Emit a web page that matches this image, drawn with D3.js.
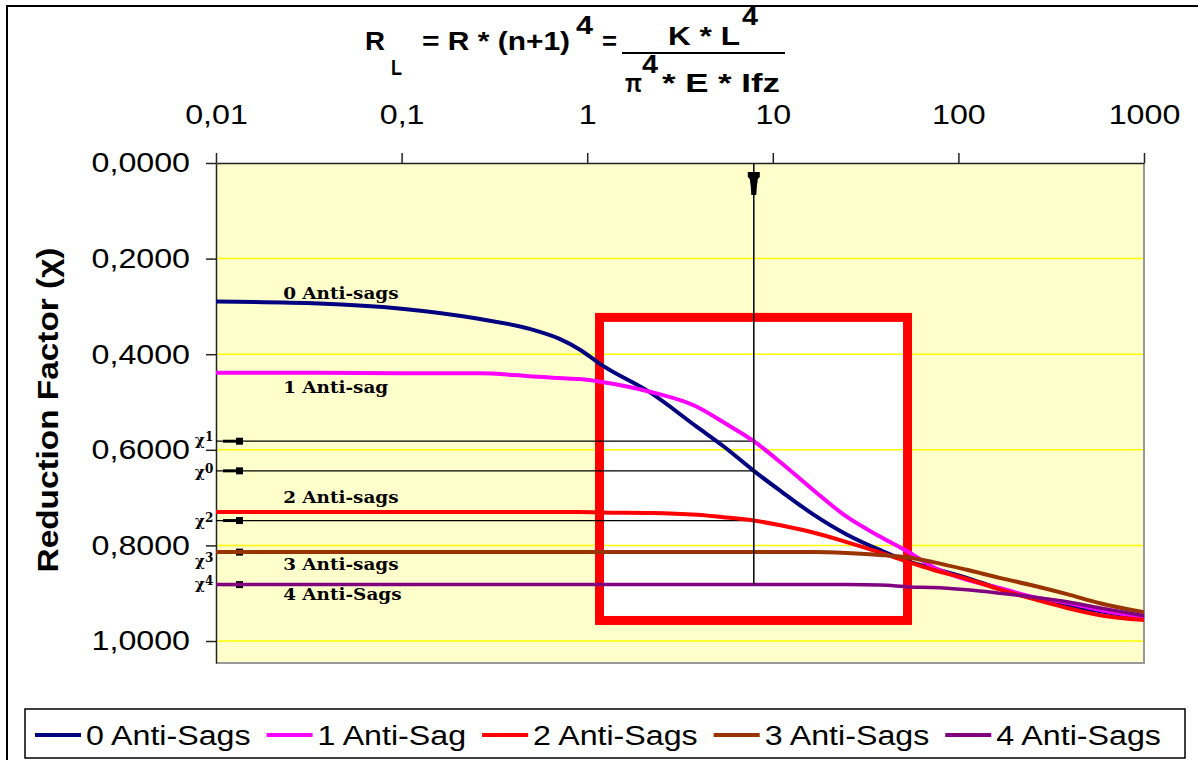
<!DOCTYPE html>
<html>
<head>
<meta charset="utf-8">
<script src="https://cdn.jsdelivr.net/npm/d3@7"></script>
<style>
  body { margin: 0; background: #fff; }
  svg { display: block; }
</style>
</head>
<body>
<div id="chart"></div>
<script>
// values
const xValues   = [0.01, 0.036, 0.1, 0.26, 0.49, 0.71, 0.91, 1.2, 2.2, 3.9, 5.4, 7.9, 11, 16.5, 25, 38, 55, 73, 111, 167, 252, 385, 580, 1000]
const antiSags0 = [0.290, 0.294, 0.305, 0.326, 0.347, 0.368, 0.390, 0.423, 0.481, 0.552, 0.592, 0.644, 0.686, 0.735, 0.777, 0.810, 0.835, 0.848, 0.868, 0.891, 0.910, 0.925, 0.938, 0.952]
const antiSags1 = [0.439, 0.439, 0.440, 0.440, 0.446, 0.450, 0.452, 0.458, 0.479, 0.510, 0.542, 0.582, 0.626, 0.684, 0.740, 0.782, 0.816, 0.845, 0.872, 0.889, 0.908, 0.920, 0.935, 0.950]
const antiSags2 = [0.730, 0.730, 0.730, 0.730, 0.730, 0.730, 0.730, 0.731, 0.732, 0.736, 0.741, 0.748, 0.758, 0.773, 0.793, 0.815, 0.836, 0.851, 0.870, 0.892, 0.912, 0.931, 0.946, 0.956]
const antiSags3 = [0.814, 0.814, 0.814, 0.814, 0.814, 0.814, 0.814, 0.814, 0.814, 0.814, 0.814, 0.814, 0.814, 0.814, 0.816, 0.820, 0.826, 0.835, 0.851, 0.868, 0.884, 0.902, 0.921, 0.940]
const antiSags4 = [0.882, 0.882, 0.882, 0.882, 0.882, 0.882, 0.882, 0.882, 0.882, 0.882, 0.882, 0.882, 0.882, 0.882, 0.882, 0.883, 0.887, 0.888, 0.893, 0.900, 0.908, 0.918, 0.931, 0.947]

const seriesNames  = ['0 Anti-Sags', '1 Anti-Sag', '2 Anti-Sags', '3 Anti-Sags', '4 Anti-Sags']
const curveLabels  = ['0 Anti-sags', '1 Anti-sag', '2 Anti-sags', '3 Anti-sags', '4 Anti-Sags']
const seriesColors = ['#000080', '#FF00FF', '#FF0000', '#993300', '#800080']
const seriesValues = [antiSags0, antiSags1, antiSags2, antiSags3, antiSags4]

const xTicks      = [0.01, 0.1, 1, 10, 100, 1000]
const xTickLabels = ['0,01', '0,1', '1', '10', '100', '1000']
const yTicks      = [0, 0.2, 0.4, 0.6, 0.8, 1.0]
const yTickLabels = ['0,0000', '0,2000', '0,4000', '0,6000', '0,8000', '1,0000']

const readX = 7.9           // R_L where the chi values are read
const boxX  = [1.165, 53.2] // red highlight box
const boxY  = [0.323, 0.957]

// consts
const W = 1198, H = 760
const S = 1.15 // the original text is a bit wider than Arial
const sans = '"Liberation Sans", Arial, sans-serif'
const serif = '"DejaVu Serif", serif'

const svg = d3.select('#chart').append('svg')
    .attr('width', W)
    .attr('height', H)

const x = d3.scaleLog().domain([0.01, 1000]).range([216, 1144])
const y = d3.scaleLinear().domain([0, 1.046]).range([163, 663])

// chart border
svg.append('rect')
    .attr('x', 7).attr('y', 6)
    .attr('width', 1300).attr('height', 900)
    .attr('fill', 'none')
    .attr('stroke', '#000')
    .attr('stroke-width', 2)

// plot area
svg.append('rect')
    .attr('x', x(0.01)).attr('y', y(0))
    .attr('width', x(1000) - x(0.01))
    .attr('height', y.range()[1] - y(0))
    .attr('fill', '#FFFFCC')

// white inside of the highlight box, under the grid
svg.append('rect')
    .attr('x', x(boxX[0])).attr('y', y(boxY[0]))
    .attr('width', x(boxX[1]) - x(boxX[0]))
    .attr('height', y(boxY[1]) - y(boxY[0]))
    .attr('fill', '#fff')

// gridlines
svg.append('g').selectAll('line')
    .data(yTicks.slice(1))
    .enter()
    .append('line')
    .attr('x1', x(0.01)).attr('x2', x(1000))
    .attr('y1', d => y(d)).attr('y2', d => y(d))
    .attr('stroke', '#FFFF00')
    .attr('stroke-width', 1.5)

// plot border right / bottom
svg.append('path')
    .attr('d', `M${x(1000)},${y(0)}V${y.range()[1]}H${x(0.01)}`)
    .attr('fill', 'none')
    .attr('stroke', '#999')
    .attr('stroke-width', 2)

// red box
svg.append('rect')
    .attr('x', x(boxX[0])).attr('y', y(boxY[0]))
    .attr('width', x(boxX[1]) - x(boxX[0]))
    .attr('height', y(boxY[1]) - y(boxY[0]))
    .attr('fill', 'none')
    .attr('stroke', '#FF0000')
    .attr('stroke-width', 9)

// axes
const xAxis = svg.append('g')
    .attr('transform', `translate(0,${y(0)})`)
    .call(d3.axisTop(x).tickValues(xTicks).tickFormat((d, i) => xTickLabels[i]).tickSize(10).tickSizeOuter(0).tickPadding(29))
const yAxis = svg.append('g')
    .attr('transform', `translate(${x(0.01)},0)`)
    .call(d3.axisLeft(y).tickValues(yTicks).tickFormat((d, i) => yTickLabels[i]).tickSize(10).tickSizeOuter(0).tickPadding(16))
;[xAxis, yAxis].forEach(a => {
    a.select('.domain').attr('stroke', '#222').attr('stroke-width', 1.5)
    a.selectAll('.tick line').attr('stroke', '#222').attr('stroke-width', 1.5)
    a.selectAll('.tick text')
        .attr('fill', '#000')
        .style('font-family', sans)
        .style('font-size', '28px')
})
xAxis.selectAll('.tick text').attr('transform', `scale(${S},1)`)
yAxis.selectAll('.tick text').attr('x', -26 / S).attr('transform', `scale(${S},1)`)

// y title
svg.append('text')
    .attr('transform', `translate(58,410) rotate(-90) scale(${S},1)`)
    .attr('text-anchor', 'middle')
    .style('font-family', sans)
    .style('font-size', '29px')
    .style('font-weight', 'bold')
    .text('Reduction Factor (χ)')

// chi read lines
const k = xValues.indexOf(readX)
const chiValues = seriesValues.map(s => s[k])
const chiLabelDy = [6, 4, 5, 14, 4]

const chiG = svg.append('g')
chiG.selectAll('line')
    .data(chiValues)
    .enter()
    .append('line')
    .attr('x1', x(0.01)).attr('x2', x(readX))
    .attr('y1', d => y(d)).attr('y2', d => y(d))
    .attr('stroke', '#000')
    .attr('stroke-width', 1.3)
chiG.selectAll('path')
    .data(chiValues)
    .enter()
    .append('path')
    .attr('d', d => `M${x(0.01) + 7},${y(d)}H${x(0.01) + 22}`)
    .attr('stroke', '#000')
    .attr('stroke-width', 3)
chiG.selectAll('rect')
    .data(chiValues)
    .enter()
    .append('rect')
    .attr('x', x(0.01) + 20).attr('y', d => y(d) - 3.5)
    .attr('width', 7).attr('height', 7)
    .attr('fill', '#000')
const chiText = chiG.selectAll('text')
    .data(chiValues)
    .enter()
    .append('text')
    .attr('x', 195)
    .attr('y', (d, i) => y(d) + chiLabelDy[i])
    .style('font-family', serif)
    .style('font-weight', 'bold')
    .style('font-size', '15px')
chiText.append('tspan').text('χ')
chiText.append('tspan')
    .attr('dy', -4)
    .style('font-size', '12px')
    .text((d, i) => i)

// curves
const line = d3.line()
    .x((d, i) => x(xValues[i]))
    .y(d => y(d))
    .curve(d3.curveMonotoneX)
svg.append('g').selectAll('path')
    .data(seriesValues)
    .enter()
    .append('path')
    .attr('d', line)
    .attr('fill', 'none')
    .attr('stroke', (d, i) => seriesColors[i])
    .attr('stroke-width', (d, i) => i === 4 ? 3.5 : 4)
    .attr('stroke-linejoin', 'round')

// curve labels
const curveLabelDy = [-3, 20, -9, 18, 15]
svg.append('g').selectAll('text')
    .data(seriesValues)
    .enter()
    .append('text')
    .attr('transform', (d, i) => `translate(${x(0.023)},${y(d[0]) + curveLabelDy[i]}) scale(${S},1)`)
    .style('font-family', serif)
    .style('font-weight', 'bold')
    .style('font-size', '16px')
    .text((d, i) => curveLabels[i])

// vertical read line with arrow
const ax = x(readX), ay = y(0)
svg.append('line')
    .attr('x1', ax).attr('x2', ax)
    .attr('y1', ay).attr('y2', y(chiValues[4]))
    .attr('stroke', '#000')
    .attr('stroke-width', 1.5)
svg.append('path')
    .attr('d', `M${ax - 6},${ay + 9}H${ax + 6}V${ay + 14}L${ax + 4},${ay + 16}L${ax + 3},${ay + 24}L${ax + 2.5},${ay + 32}H${ax - 2.5}L${ax - 3},${ay + 24}L${ax - 4},${ay + 16}L${ax - 6},${ay + 14}Z`)
    .attr('fill', '#000')

// title formula
const titleParts = [
    {t: 'R', x: 365, y: 50, size: 26, w: 20},
    {t: 'L', x: 391, y: 75, size: 22, w: 11},
    {t: '= R * (n+1)', x: 422, y: 50, size: 26, w: 148},
    {t: '4', x: 576, y: 34, size: 26, w: 17},
    {t: '=', x: 602, y: 50, size: 26, w: 15},
    {t: 'K * L', x: 668, y: 45, size: 26, w: 72},
    {t: '4', x: 742, y: 25, size: 26, w: 16},
    {t: 'π', x: 625, y: 92, size: 26, w: 17},
    {t: '4', x: 642, y: 73, size: 26, w: 16},
    {t: '* E * Ifz', x: 662, y: 92, size: 26, w: 118}
]
svg.append('g').selectAll('text')
    .data(titleParts)
    .enter()
    .append('text')
    .attr('x', d => d.x).attr('y', d => d.y)
    .attr('textLength', d => d.w)
    .attr('lengthAdjust', 'spacingAndGlyphs')
    .style('font-family', sans)
    .style('font-weight', 'bold')
    .style('font-size', d => d.size + 'px')
    .text(d => d.t)
svg.append('line')
    .attr('x1', 622).attr('x2', 785)
    .attr('y1', 53).attr('y2', 53)
    .attr('stroke', '#000')
    .attr('stroke-width', 2)

// legend
svg.append('rect')
    .attr('x', 25).attr('y', 709)
    .attr('width', 1160).attr('height', 49)
    .attr('fill', '#fff')
    .attr('stroke', '#000')
    .attr('stroke-width', 1.5)
let cx = 35
seriesNames.forEach((name, i) => {
    svg.append('line')
        .attr('x1', cx).attr('x2', cx + 46)
        .attr('y1', 735).attr('y2', 735)
        .attr('stroke', seriesColors[i])
        .attr('stroke-width', 4)
    const t = svg.append('text')
        .attr('transform', `translate(${cx + 51},745) scale(${S},1)`)
        .style('font-family', sans)
        .style('font-size', '28px')
        .text(name)
    cx = cx + 51 + t.node().getComputedTextLength() * S + 16
})
</script>
</body>
</html>
